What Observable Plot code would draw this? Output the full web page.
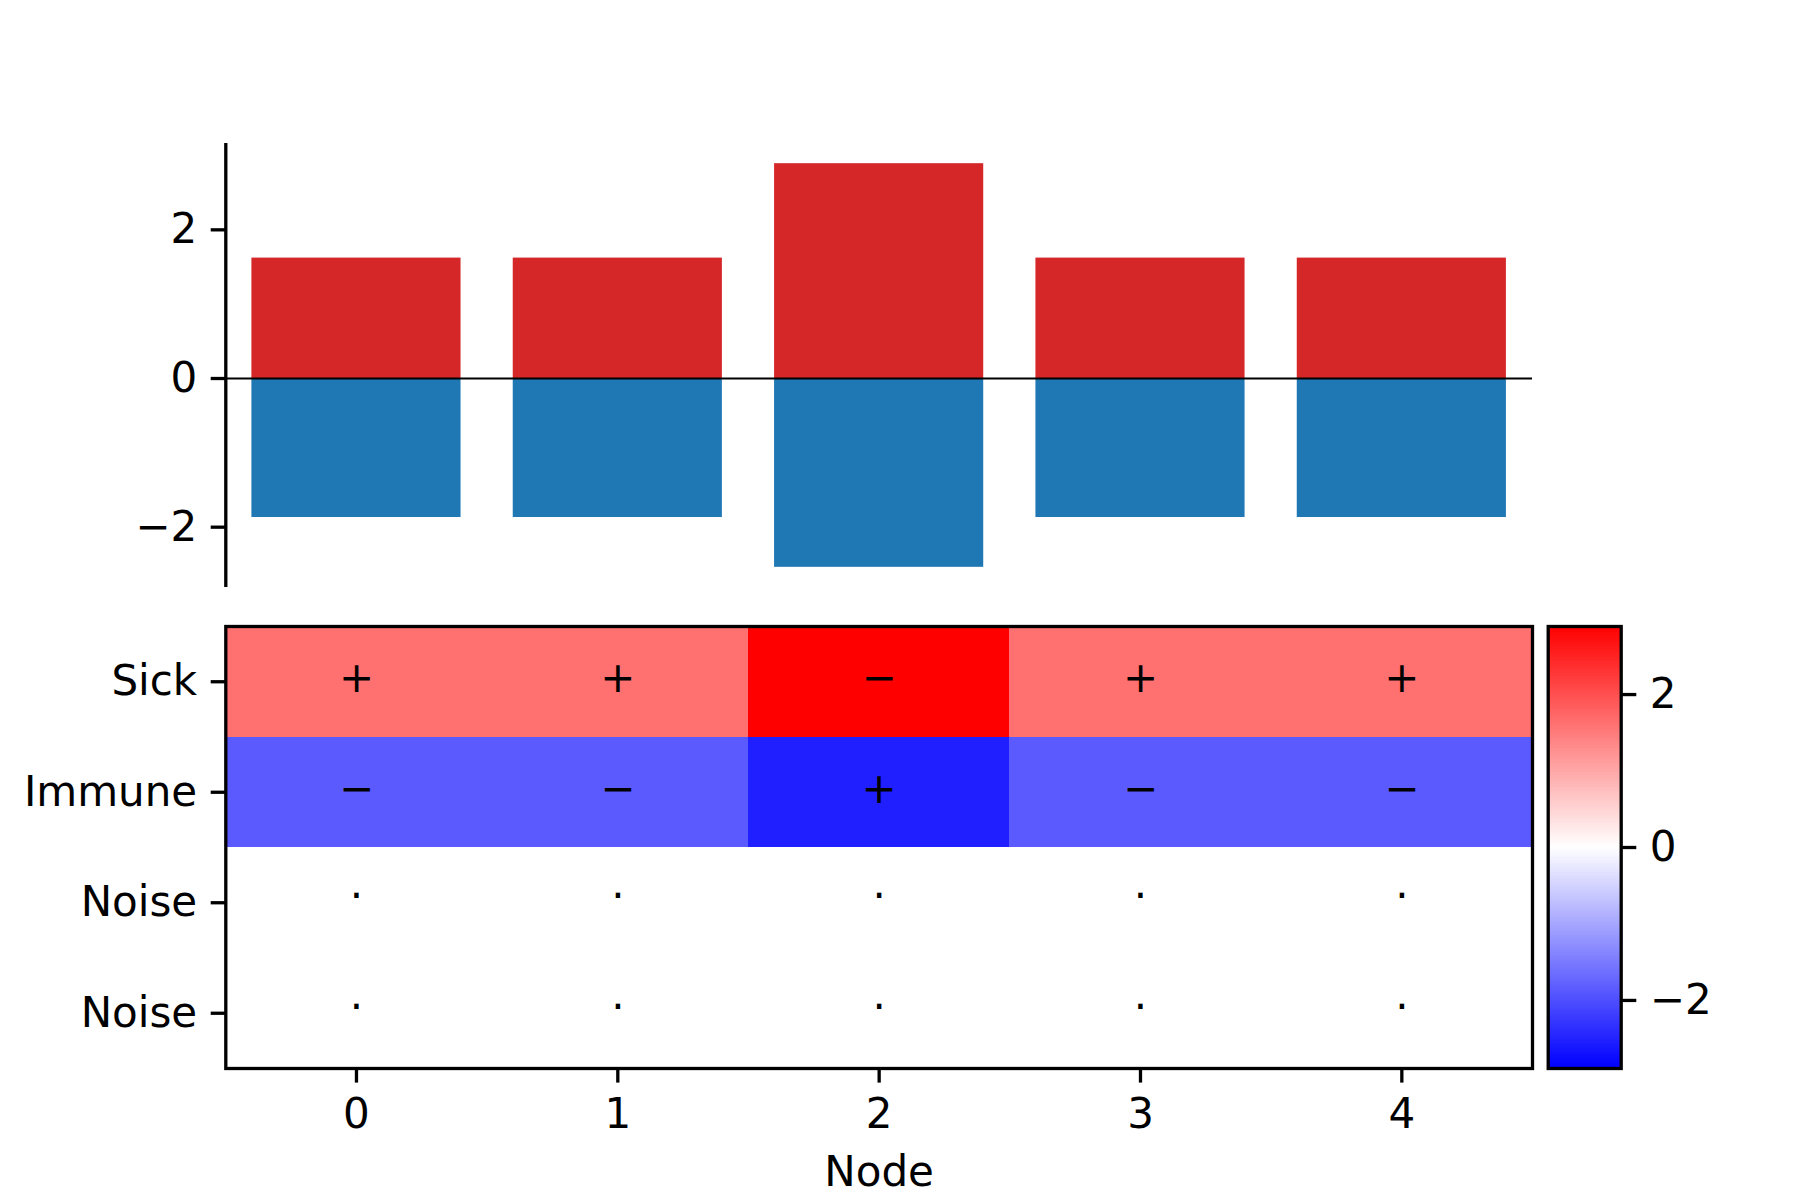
<!DOCTYPE html>
<html>
<head>
<meta charset="utf-8">
<script src="https://cdn.jsdelivr.net/npm/d3@7"></script>
<script src="https://cdn.jsdelivr.net/npm/@observablehq/plot@0.6"></script>
<style>
  html, body { margin: 0; padding: 0; background: #fff; }
  #chart { position: relative; width: 1800px; height: 1200px; background: #fff; font-family: "DejaVu Sans", sans-serif; }
  #chart > svg { position: absolute; left: 0; overflow: visible; }
</style>
</head>
<body>
<div id="chart"></div>
<script>
// ---- data ----
const nodes = [0, 1, 2, 3, 4];
const sickWeights = [1.62, 1.62, 2.89, 1.62, 1.62];
const immuneWeights = [-1.87, -1.87, -2.54, -1.87, -1.87];
const noiseWeights1 = [0, 0, 0, 0, 0];
const noiseWeights2 = [0, 0, 0, 0, 0];
const rowLabels = ["Sick", "Immune", "Noise", "Noise"];
const sickSigns = ["+", "+", "\u2212", "+", "+"];
const immuneSigns = ["\u2212", "\u2212", "+", "\u2212", "\u2212"];
const noiseSigns1 = ["\u00b7", "\u00b7", "\u00b7", "\u00b7", "\u00b7"];
const noiseSigns2 = ["\u00b7", "\u00b7", "\u00b7", "\u00b7", "\u00b7"];
const barTicks = [-2, 0, 2];
const colorbarTicks = [-2, 0, 2];

// ---- derived tables ----
const bars = nodes.map((n, i) => ({node: n, sick: sickWeights[i], immune: immuneWeights[i]}));
const rowValues = [sickWeights, immuneWeights, noiseWeights1, noiseWeights2];
const rowSigns = [sickSigns, immuneSigns, noiseSigns1, noiseSigns2];
const cells = [];
rowValues.forEach((vals, r) => vals.forEach((v, c) => cells.push({row: r, node: nodes[c], value: v, sign: rowSigns[r][c]})));
const signCells = cells.filter(d => d.sign !== "\u00b7");
const dotCells = cells.filter(d => d.sign === "\u00b7");

const vmax = d3.max(cells, d => Math.abs(d.value));
const bwr = d3.piecewise(d3.interpolateRgb, ["#0000ff", "#ffffff", "#ff0000"]);
const minusFmt = d => d < 0 ? "\u2212" + Math.abs(d) : String(d);

const FONT = {fontSize: "42px", fontFamily: "DejaVu Sans, sans-serif", background: "transparent", overflow: "visible"};
const ML = 225.3, MR = 1800 - 1532;
const TICK = 14.6, TW = 3.3;

const chartEl = document.getElementById("chart");

// ---- top: bar chart ----
const yMin = d3.min(immuneWeights), yMaxV = d3.max(sickWeights);
const pad = (yMaxV - yMin) * 0.05;
const barPlot = Plot.plot({
  width: 1800, height: 600,
  marginTop: 143, marginBottom: 13, marginLeft: ML, marginRight: MR,
  style: FONT,
  x: {type: "linear", domain: [-0.5, 4.5], axis: null},
  y: {domain: [yMin - pad, yMaxV + pad], axis: null},
  marks: [
    Plot.rectY(bars, {x1: d => d.node - 0.5, x2: d => d.node + 0.5, y1: 0, y2: "sick", fill: "#d62728", insetLeft: 26.1, insetRight: 26.1}),
    Plot.rectY(bars, {x1: d => d.node - 0.5, x2: d => d.node + 0.5, y1: 0, y2: "immune", fill: "#1f77b4", insetLeft: 26.1, insetRight: 26.1}),
    Plot.ruleY([0], {stroke: "#000", strokeWidth: 2}),
    Plot.ruleX([-0.5], {stroke: "#000", strokeWidth: TW}),
    Plot.axisY({ticks: barTicks, tickFormat: minusFmt, tickSize: TICK, tickPadding: 14, strokeWidth: TW, label: null, fontSize: 42})
  ]
});
barPlot.style.top = "0px";
chartEl.appendChild(barPlot);

// ---- bottom: heatmap ----
const heatPlot = Plot.plot({
  width: 1800, height: 600,
  marginTop: 26, marginBottom: 132, marginLeft: ML, marginRight: MR,
  style: FONT,
  x: {type: "linear", domain: [-0.5, 4.5], axis: null},
  y: {type: "linear", domain: [-0.5, 3.5], reverse: true, axis: null},
  color: {type: "linear", domain: [-vmax, vmax], interpolate: bwr},
  marks: [
    Plot.rect(cells, {x1: d => d.node - 0.5, x2: d => d.node + 0.5, y1: d => d.row - 0.5, y2: d => d.row + 0.5, fill: "value", shapeRendering: "crispEdges"}),
    Plot.text(signCells, {x: "node", y: "row", text: "sign", fill: "#000", fontSize: 42, dy: -3}),
    Plot.text(dotCells, {x: "node", y: "row", text: "sign", fill: "#000", fontSize: 42, dy: -6}),
    Plot.frame({stroke: "#000", strokeWidth: TW}),
    Plot.axisX({ticks: nodes, tickFormat: d => String(d), tickSize: TICK, tickPadding: 15, strokeWidth: TW, label: null, fontSize: 42}),
    Plot.axisY({ticks: [0, 1, 2, 3], tickFormat: i => rowLabels[i], tickSize: TICK, tickPadding: 14, strokeWidth: TW, label: null, fontSize: 42}),
    Plot.text(["Node"], {frameAnchor: "bottom", dy: 117, fill: "#000", fontSize: 42})
  ]
});
heatPlot.style.top = "600px";
chartEl.appendChild(heatPlot);

// ---- colorbar ----
const N = 300;
const slices = d3.range(N).map(k => {
  const a = -vmax + (2 * vmax) * k / N, b = -vmax + (2 * vmax) * (k + 1) / N;
  return {y1: a, y2: b, v: (a + b) / 2};
});
const cbarPlot = Plot.plot({
  width: 1800, height: 600,
  marginTop: 26, marginBottom: 132, marginLeft: 1547.7, marginRight: 1800 - 1620.7,
  style: FONT,
  x: {domain: [0, 1], axis: null},
  y: {domain: [-vmax, vmax], axis: null},
  color: {type: "linear", domain: [-vmax, vmax], interpolate: bwr},
  marks: [
    Plot.rect(slices, {x1: 0, x2: 1, y1: "y1", y2: "y2", fill: "v", shapeRendering: "crispEdges"}),
    Plot.frame({stroke: "#000", strokeWidth: TW}),
    Plot.axisY({anchor: "right", ticks: colorbarTicks, tickFormat: minusFmt, tickSize: TICK, tickPadding: 14, strokeWidth: TW, label: null, fontSize: 42})
  ]
});
cbarPlot.style.top = "600px";
chartEl.appendChild(cbarPlot);
</script>
</body>
</html>
